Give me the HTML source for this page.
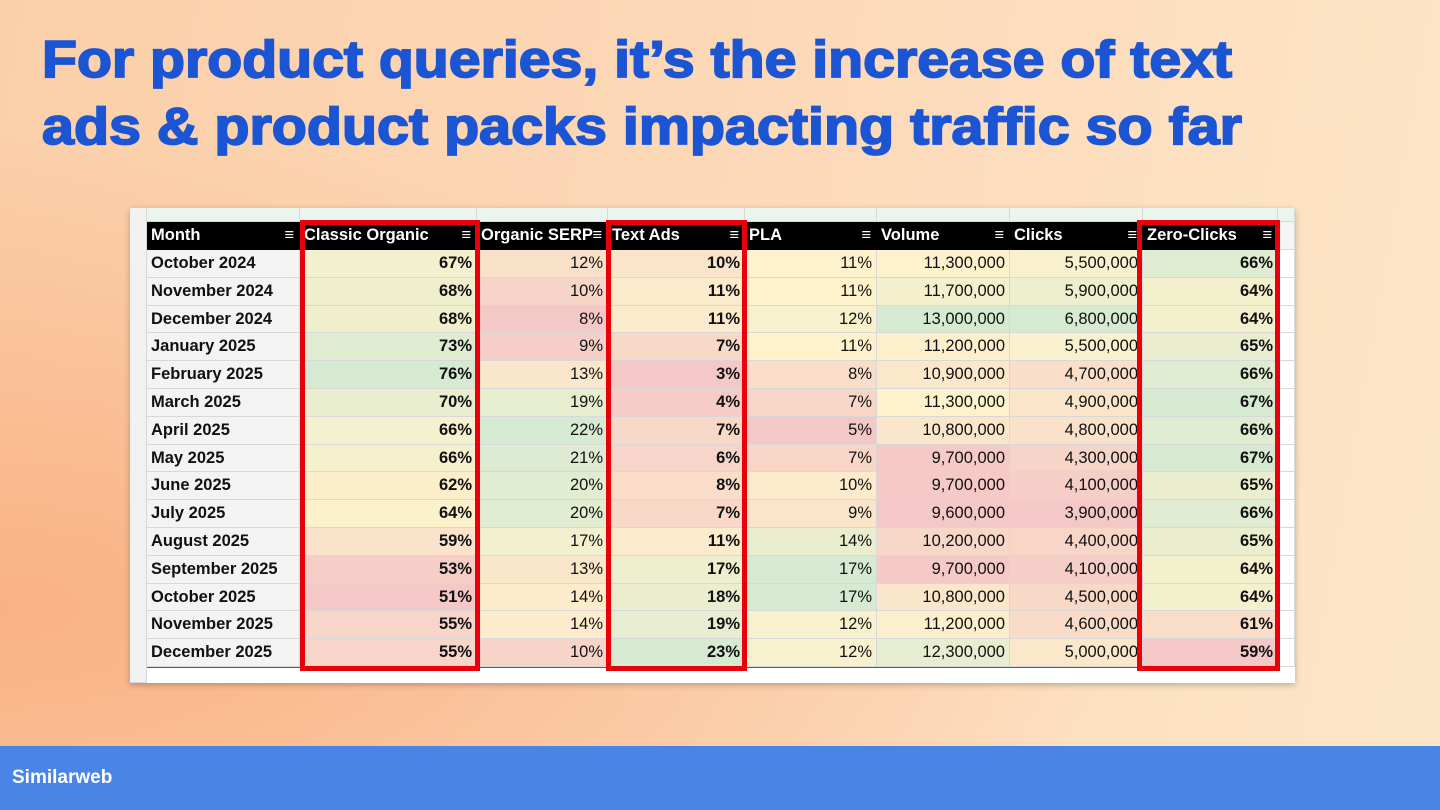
<!DOCTYPE html>
<html><head><meta charset="utf-8">
<style>
html,body{margin:0;padding:0}
body{width:1440px;height:810px;position:relative;overflow:hidden;font-family:"Liberation Sans",sans-serif;
background:radial-gradient(ellipse at 0% 75%,#f9b184 0%,rgba(249,177,132,0) 55%),linear-gradient(100deg,#fbcfa9 0%,#fcd9b8 50%,#fde6c9 100%);}
#footer{position:absolute;left:0;top:746px;width:1440px;height:64px;background:#4a84e6}
#footer span{position:absolute;left:12px;top:21px;color:#fff;font-weight:bold;font-size:19px}
#tbl{position:absolute;left:130px;top:208px;width:1165px;height:475px;background:#fff;box-shadow:0 2px 6px rgba(0,0,0,.25)}
.c{position:absolute;box-sizing:border-box;border-right:1px solid #d8d8d8;border-bottom:1px solid #d8d8d8;font-size:16.5px;line-height:27px;padding:0 4px;white-space:nowrap;overflow:hidden;color:#111}
.h{background:#000;color:#fff;font-weight:bold;border-color:#000}
.box{position:absolute;border:5px solid #e8000b;box-sizing:border-box}
</style></head><body>
<svg style="position:absolute;left:0;top:0" width="1440" height="180">
<text x="42" y="77" font-family="Liberation Sans, sans-serif" font-weight="bold" font-size="52" fill="#1b55d3" stroke="#1b55d3" stroke-width="1.8" textLength="1190" lengthAdjust="spacingAndGlyphs">For product queries, it’s the increase of text</text>
<text x="42" y="144" font-family="Liberation Sans, sans-serif" font-weight="bold" font-size="52" fill="#1b55d3" stroke="#1b55d3" stroke-width="1.8" textLength="1200" lengthAdjust="spacingAndGlyphs">ads &amp; product packs impacting traffic so far</text>
</svg>
<div id="tbl"></div>
<div id="footer"><span>Similarweb</span></div>
<script>
const months=["October 2024","November 2024","December 2024","January 2025","February 2025","March 2025","April 2025","May 2025","June 2025","July 2025","August 2025","September 2025","October 2025","November 2025","December 2025"];
const headers=["Month","Classic Organic","Organic SERP","Text Ads","PLA","Volume","Clicks","Zero-Clicks"];
const classicOrganic=[67,68,68,73,76,70,66,66,62,64,59,53,51,55,55];
const organicSerp=[12,10,8,9,13,19,22,21,20,20,17,13,14,14,10];
const textAds=[10,11,11,7,3,4,7,6,8,7,11,17,18,19,23];
const pla=[11,11,12,11,8,7,5,7,10,9,14,17,17,12,12];
const volume=[11300000,11700000,13000000,11200000,10900000,11300000,10800000,9700000,9700000,9600000,10200000,9700000,10800000,11200000,12300000];
const clicks=[5500000,5900000,6800000,5500000,4700000,4900000,4800000,4300000,4100000,3900000,4400000,4100000,4500000,4600000,5000000];
const zeroClicks=[66,64,64,65,66,67,66,67,65,66,65,64,64,61,59];

const T=document.getElementById('tbl');
const colX=[17,170,347,478,615,747,880,1013,1148,1165];
const names=["month","classic-organic","organic-serp","text-ads","pla","volume","clicks","zero-clicks"];
const bold=[true,true,false,true,false,false,false,true];
const series=[null,classicOrganic,organicSerp,textAds,pla,volume,clicks,zeroClicks];
const rowH=27.8, headTop=14, dataTop=42;
function lerp(a,b,t){return a.map((v,i)=>Math.round(v+(b[i]-v)*t));}
function heat(v,arr){const mn=Math.min(...arr),mx=Math.max(...arr);const t=(v-mn)/(mx-mn||1);
 const r=[244,200,198],y=[253,242,204],g=[214,234,210];
 const c=t<0.5?lerp(r,y,t*2):lerp(y,g,(t-0.5)*2);return `rgb(${c})`;}
function fmt(i,v){return (i===5||i===6)?v.toLocaleString('en-US'):v+'%';}
function cell(x,y,w,h){const d=document.createElement('div');d.className='c';d.style.left=x+'px';d.style.top=y+'px';d.style.width=w+'px';d.style.height=h+'px';T.appendChild(d);return d;}
const g=cell(0,0,17,475);g.style.background='#f1f1f1';


for(let i=0;i<9;i++){const d=cell(colX[i],0,colX[i+1]-colX[i],14);d.style.background='#eaf5ee';

}
headers.forEach((h,i)=>{const d=cell(colX[i],headTop,colX[i+1]-colX[i],28);d.classList.add('h');
d.innerHTML=h+'<span style="position:absolute;right:5px;top:0;font-weight:normal">&#8801;</span>';

});
const ex=cell(colX[8],headTop,17,28);ex.style.background='#f5f5f5';


months.forEach((m,r)=>{
 const y=dataTop+r*rowH;
 const mc=cell(colX[0],y,colX[1]-colX[0],rowH);mc.textContent=m;mc.style.fontWeight='bold';mc.style.background='#f3f3f3';
 
 
 for(let i=1;i<8;i++){const arr=series[i];const d=cell(colX[i],y,colX[i+1]-colX[i],rowH);
  d.textContent=fmt(i,arr[r]);d.style.textAlign='right';d.style.background=heat(arr[r],arr);if(bold[i])d.style.fontWeight='bold';
  
  }
 const e=cell(colX[8],y,17,rowH);e.style.background='#fff';
 
 
});
const line=document.createElement('div');line.style.cssText='position:absolute;left:17px;top:'+(dataTop+15*rowH)+'px;width:1131px;height:1px;background:#2a7a3a';T.appendChild(line);


[[170,350],[476,617],[1007,1150]].forEach((b,k)=>{const d=document.createElement('div');d.className='box';
 d.style.left=b[0]+'px';d.style.top='12px';d.style.width=(b[1]-b[0])+'px';d.style.height='451px';T.appendChild(d);
 
 });
</script>
</body></html>
